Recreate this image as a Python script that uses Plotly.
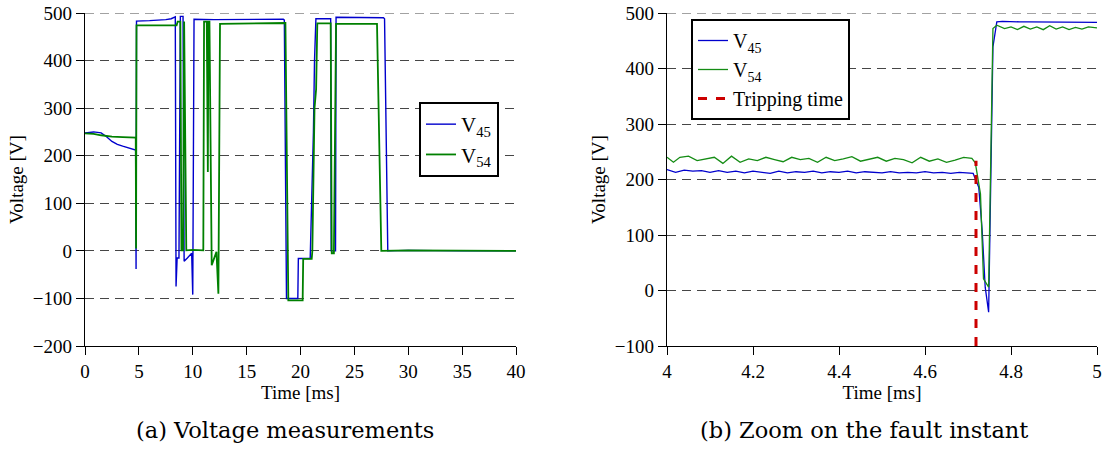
import plotly.graph_objects as go

# ---------------- (a) full record, 0-40 ms ----------------
t45_a = [0, 0.8, 1.5, 2.0, 2.5, 3.0, 3.5, 4.0, 4.6, 4.70, 4.74, 4.78, 6.0, 7.0, 7.5, 8.0, 8.3,
         8.38, 8.45, 8.55, 8.72, 8.85, 9.10, 9.20, 9.50, 9.90, 10.0, 10.12, 12.0, 15.0, 18.4,
         18.5, 18.7, 19.75, 19.8, 20.9, 21.05, 21.15, 21.2, 21.3, 21.43, 22.8, 22.85, 23.25,
         23.3, 27.7, 27.8, 28.1, 30.0, 35.0, 40.0]
v45_a = [248, 250, 248, 240, 230, 224, 220, 216, 212, 212, -38, 483, 484, 485, 486, 488, 492,
         492, -75, -15, -15, 493, 493, -22, -15, -5, -92, 487, 486, 486, 487,
         485, -100, -100, -16, -16, 100, 170, 250, 400, 488, 488, 0, 0,
         491, 490, 488, 0, 1, 0, 0]

t54_a = [0, 0.8, 1.5, 2.5, 3.5, 4.6, 4.71, 4.74, 4.78, 6.0, 7.0, 8.0, 8.5, 8.6, 8.85, 8.95,
         9.10, 9.20, 9.40, 10.0, 10.98, 11.05, 11.3, 11.4, 11.45, 11.55, 11.76, 12.2, 12.38,
         12.53, 15.0, 18.0, 18.6, 18.87, 20.2, 20.25, 21.04, 21.1, 21.3, 21.45, 21.56, 22.8,
         22.9, 23.1, 23.3, 27.1, 27.5, 30.0, 35.0, 40.0]
v54_a = [247, 246, 243, 240, 239, 238, 238, 5, 474, 474, 474, 475, 474, 482, 482, 1,
         1, 482, 1, 2, 1, 482, 482, 166, 482, 482, -30, -2, -90,
         477, 478, 479, 479, -104, -104, -17, -17, 0, 300, 340, 478, 478,
         -5, -5, 477, 477, 0, 1, 0, 0]

# ---------------- (b) zoom on the fault instant ----------------
t45_b = [4.000, 4.020, 4.040, 4.060, 4.080, 4.100, 4.120, 4.140, 4.160, 4.180, 4.200, 4.220,
         4.240, 4.260, 4.280, 4.300, 4.320, 4.340, 4.360, 4.380, 4.400, 4.420, 4.440, 4.460,
         4.480, 4.500, 4.520, 4.540, 4.560, 4.580, 4.600, 4.620, 4.640, 4.660, 4.680, 4.700,
         4.712, 4.725, 4.733, 4.740, 4.748, 4.758, 4.767, 4.780, 4.800, 4.820, 4.840, 4.860,
         4.880, 4.900, 4.920, 4.940, 4.960, 4.980, 5.000]
v45_b = [218, 213, 217, 215, 216, 213, 216, 213, 215, 212, 215, 213,
         211, 215, 212, 214, 213, 215, 212, 214, 213, 215, 212, 214,
         213, 212, 214, 212, 213, 212, 214, 212, 213, 211, 213, 212,
         211, 186, 108, 6, -39, 439, 484, 485, 484, 484, 484, 484,
         483, 483, 483, 484, 483, 484, 483]

t54_b = [4.000, 4.015, 4.030, 4.050, 4.070, 4.090, 4.110, 4.130, 4.150, 4.170, 4.190, 4.210,
         4.230, 4.250, 4.270, 4.290, 4.310, 4.330, 4.350, 4.370, 4.390, 4.410, 4.430, 4.450,
         4.470, 4.490, 4.510, 4.530, 4.550, 4.570, 4.590, 4.610, 4.630, 4.650, 4.670, 4.690,
         4.709, 4.717, 4.729, 4.736, 4.748, 4.758, 4.767, 4.785, 4.800, 4.815, 4.830, 4.845,
         4.860, 4.875, 4.890, 4.905, 4.920, 4.935, 4.950, 4.965, 4.980, 5.000]
v54_b = [240, 231, 240, 242, 234, 237, 240, 229, 242, 231, 237, 234,
         240, 236, 232, 240, 236, 238, 231, 240, 234, 237, 241, 233,
         236, 240, 233, 238, 236, 230, 240, 233, 237, 231, 235, 240,
         238, 230, 174, 21, 6, 472, 478, 472, 475, 470, 476, 471,
         475, 470, 477, 471, 475, 470, 474, 471, 475, 473]

trip_t = [4.7186, 4.7186]
trip_v = [-100, 234]

Y_TOP = 500  # upper axis limit of both panels (gridline drawn there too)

BLUE = "rgb(0,0,205)"
GREEN = "rgb(0,128,0)"
RED = "rgb(204,0,0)"
SERIF = "Liberation Serif, Times New Roman, serif"
GRIDC = "rgb(70,70,70)"
GRIDDASH = "9px,6px"

W, H = 1102, 450


def fx(px):
    return px / W


def fy(py):
    return 1 - py / H


fig = go.Figure()
fig.add_trace(go.Scatter(x=t45_a, y=v45_a, mode="lines", name="V<sub>45</sub>",
                         line=dict(color=BLUE, width=1.4), xaxis="x", yaxis="y", legend="legend"))
fig.add_trace(go.Scatter(x=t54_a, y=v54_a, mode="lines", name="V<sub>54</sub>",
                         line=dict(color=GREEN, width=1.8), xaxis="x", yaxis="y", legend="legend"))
fig.add_trace(go.Scatter(x=t45_b, y=v45_b, mode="lines", name="V<sub>45</sub>",
                         line=dict(color=BLUE, width=1.3), xaxis="x2", yaxis="y2", legend="legend2"))
fig.add_trace(go.Scatter(x=t54_b, y=v54_b, mode="lines", name="V<sub>54</sub>",
                         line=dict(color="rgb(20,140,20)", width=1.3), xaxis="x2", yaxis="y2", legend="legend2"))
fig.add_trace(go.Scatter(x=trip_t, y=trip_v, mode="lines", name="Tripping time",
                         line=dict(color=RED, width=3, dash="dash"), xaxis="x2", yaxis="y2", legend="legend2"))

# top gridline (plotly skips the gridline lying on the plot edge)
for xr, yr in (("x domain", "y"), ("x2 domain", "y2")):
    fig.add_shape(type="line", xref=xr, yref=yr, x0=0, x1=1, y0=Y_TOP, y1=Y_TOP,
                  line=dict(color=GRIDC, width=1, dash=GRIDDASH), layer="below")

ydom = [fy(346), fy(13)]
axis_common = dict(showline=True, linecolor="black", linewidth=1.3, ticks="outside", ticklen=8,
                   tickcolor="black", tickwidth=1, tickfont=dict(family=SERIF, size=19, color="black"),
                   zeroline=False, fixedrange=True, automargin=False, ticklabeloverflow="allow")
grid = dict(showgrid=True, gridcolor=GRIDC, gridwidth=1, griddash=GRIDDASH)

fig.update_layout(
    width=W, height=H,
    margin=dict(l=0, r=0, t=0, b=0, autoexpand=False),
    paper_bgcolor="white", plot_bgcolor="white",
    font=dict(family=SERIF, color="black"),
    xaxis=dict(domain=[fx(85), fx(516)], range=[0, 40], dtick=5, showgrid=False,
               title=dict(text="Time [ms]", font=dict(size=19, family=SERIF), standoff=0),
               anchor="y", **axis_common),
    yaxis=dict(domain=ydom, range=[-200, Y_TOP], dtick=100,
               title=dict(text="Voltage [V]", font=dict(size=19, family=SERIF), standoff=4),
               anchor="x", **grid, **axis_common),
    xaxis2=dict(domain=[fx(667), fx(1097)], range=[4, 5], dtick=0.2, showgrid=False,
                title=dict(text="Time [ms]", font=dict(size=19, family=SERIF), standoff=0),
                anchor="y2", **axis_common),
    yaxis2=dict(domain=ydom, range=[-100, Y_TOP], dtick=100,
                title=dict(text="Voltage [V]", font=dict(size=19, family=SERIF), standoff=4),
                anchor="x2", **grid, **axis_common),
    legend=dict(x=fx(419), y=fy(102), xanchor="left", yanchor="top",
                bgcolor="white", bordercolor="black", borderwidth=2,
                font=dict(family=SERIF, size=21, color="black"), tracegroupgap=0),
    legend2=dict(x=fx(691), y=fy(19), xanchor="left", yanchor="top",
                 bgcolor="white", bordercolor="black", borderwidth=2,
                 font=dict(family=SERIF, size=20, color="black"), tracegroupgap=0),
    annotations=[
        dict(text="(a) Voltage measurements", x=fx(285), y=fy(430), xref="paper",
             yref="paper", showarrow=False, xanchor="center", yanchor="middle",
             font=dict(family="DejaVu Serif", size=22.5, color="black")),
        dict(text="(b) Zoom on the fault instant", x=fx(864), y=fy(430), xref="paper",
             yref="paper", showarrow=False, xanchor="center", yanchor="middle",
             font=dict(family="DejaVu Serif", size=22.5, color="black")),
    ],
)

# remove the default 8px page margin so the 1102x450 figure fills the window exactly
fig.write_html("out.html", config={"displayModeBar": False},
               post_script="document.body.style.margin='0';document.body.style.overflow='hidden';")
